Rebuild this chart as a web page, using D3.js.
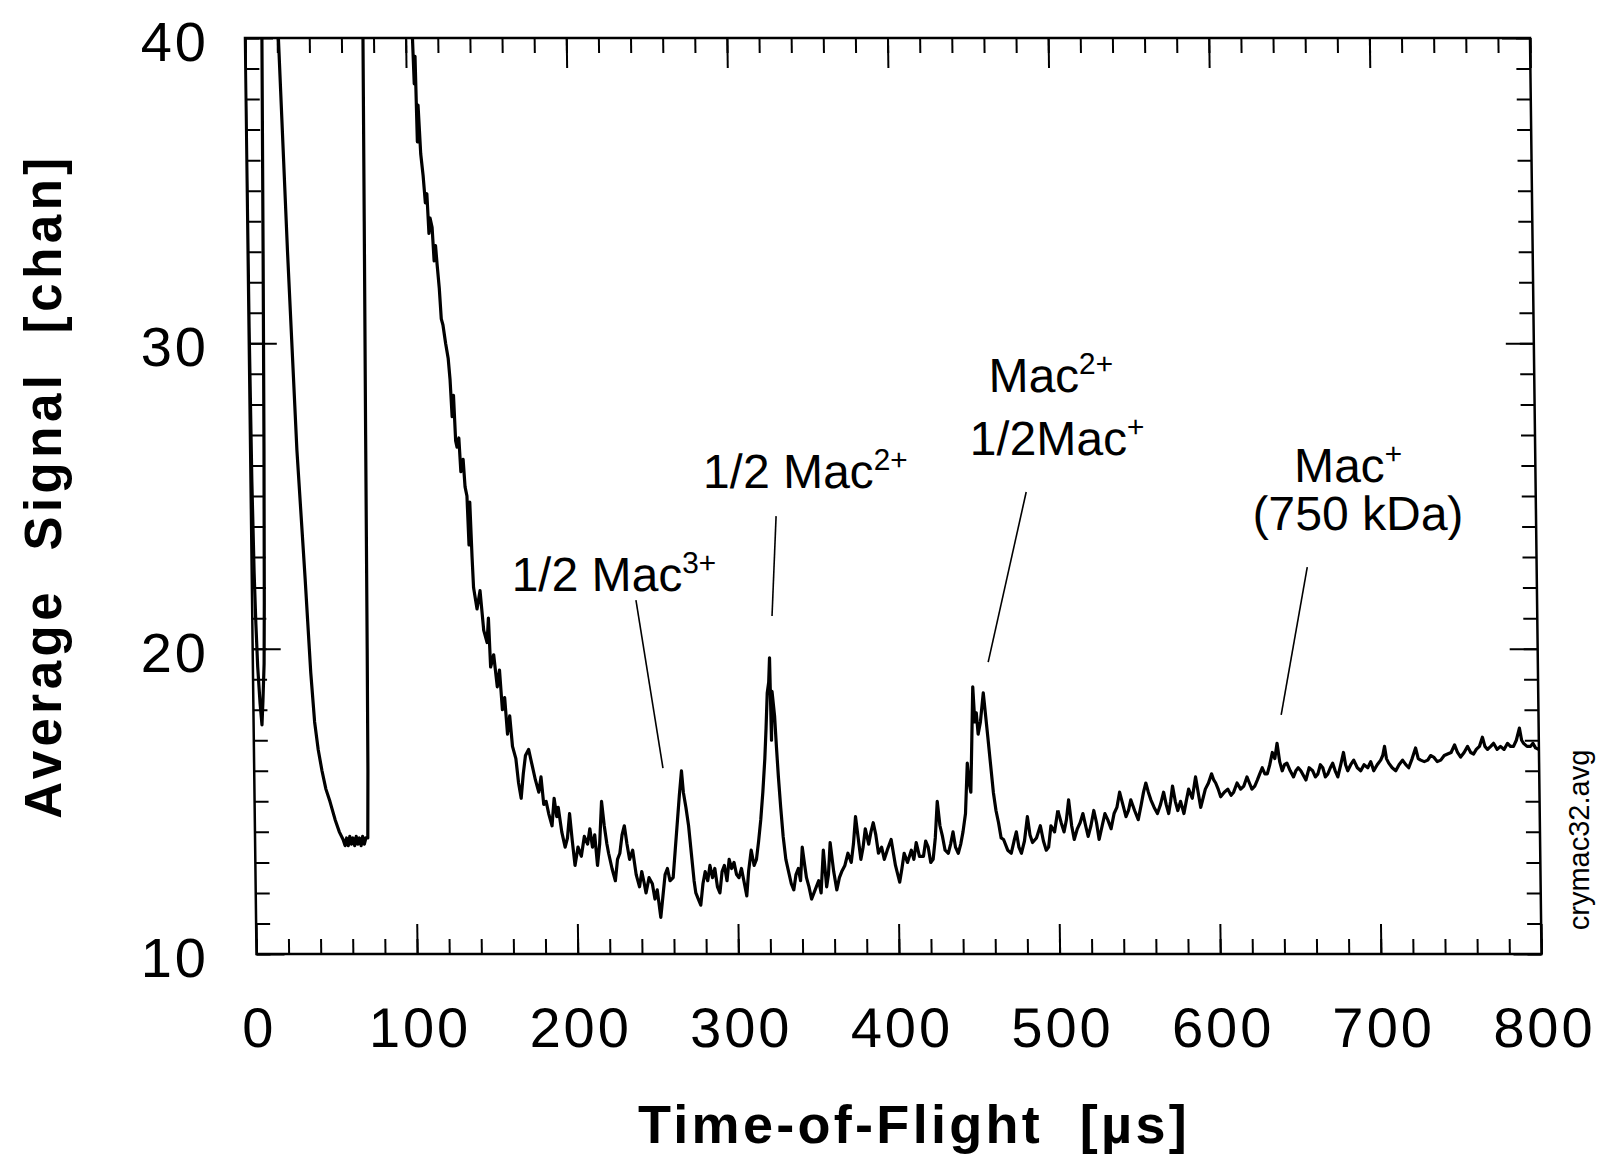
<!DOCTYPE html>
<html>
<head>
<meta charset="utf-8">
<script src="https://cdn.jsdelivr.net/npm/d3@7/dist/d3.min.js"></script>
<style>
  body { margin: 0; background: #fff; }
  text { font-family: "Liberation Sans", Arial, Helvetica, sans-serif; fill: #000; }
</style>
</head>
<body>
<svg id="chart" width="1601" height="1160"></svg>
<script>
// --- values: [time-of-flight (us), average signal (chan)]
const promptPeak = [[0,40.5],[0.3,30.5],[0.8,25.5],[1.5,22.5],[2.2,20.8],[3,19.4],[4.2,18.2],[5.2,17.5],
  [6,18.3],[7,19.5],[7.6,21.5],[8.6,26.5],[9.6,33],[10.6,40.5]];

const lightIons = [[20.5,40.5],[24.8,33],[29.1,26.5],[33.2,22.3],[36,19.2],[38,17.6],[40,16.7],[42.2,16.0],
  [44.5,15.4],[46.9,15.0],[50,14.4],[52.5,14.0],[54.8,13.75],[56,13.55],[57,13.8],[58,13.55],[59,13.85],
  [60,13.6],[61,13.8],[62,13.55],[63,13.85],[64,13.6],[65,13.8],[66,13.55],[67,13.85],[68,13.6],[69,13.8],
  [70.2,13.8],[70.8,16],[71.3,20],[72,27],[72.8,34],[73.5,40.5]];

const decayTail = [[104,40.5],[105,38.5],[105.7,39.4],[106.5,36.6],[107.2,37.8],[108.5,36.2],[109.8,35.5],
  [111,34.6],[112,34.9],[113,33.6],[113.8,34.1],[115,33.8],[116,32.7],[117,33.2],[117.8,32.6],[119,31.8],
  [120,30.8],[121,30.6],[122.5,30.0],[124,29.5],[125,28.8],[126,27.6],[127,28.3],[128,26.8],[128.8,26.6],
  [130,26.9],[131,25.8],[132.5,26.2],[133.5,25.3],[134.6,25.0],[135.5,23.4],[136.3,24.8],[137.3,23.0],
  [138,22.0],[140,21.3],[142,21.9],[144,20.6],[146,20.2],[147,21.0],[148,19.4],[150,19.8],[152,18.75],
  [153.5,19.3],[155,18.0],[156.5,18.4],[158,17.2],[159.5,17.8],[161,16.8],[163,16.4],[164.5,15.6],[166,15.1],
  [167.5,15.9],[169,16.5],[171,16.7],[173,16.2],[175,15.7],[177,15.3],[178.5,15.8],[180,14.9],[181.5,15.0],
  [183,14.6],[185,14.2],[186.5,15.1],[188,14.5],[189,14.8],[191,14.0],[193,13.5],[194.5,13.8],[196,14.6],
  [197.5,13.7],[199,12.9],[201,13.5],[203,13.2],[205,13.85],[207,13.6],[208.5,14.1],[210,13.5],[211.5,13.9],
  [213,12.9],[214.5,13.6],[216,15.0],[217.5,14.2],[219,13.6],[220,13.3],[222,12.8],[224,12.4],[225.5,13.1],
  [227,13.3],[228.5,13.9],[230,14.2],[231.5,13.6],[233,13.1],[235,13.4],[237,12.6],[239,12.2],[240.5,12.7],
  [242,12.3],[243,12.0],[245,12.5],[247,12.3],[248.5,11.8],[250,12.1]];

const macPeaks = [[252,11.2],[253.5,11.9],[255,12.6],[256.5,12.8],[258,12.4],[260,12.5],[261.5,13.4],
  [263,14.3],[264.5,15.2],[266,16.0],[267,15.3],[268.5,14.8],[270,14.2],[271.5,13.3],[273,12.4],[274,12.0],
  [275.5,11.8],[277,11.6],[278.5,12.3],[280,12.7],[281.5,12.4],[283,12.9],[284.5,12.5],[286,12.8],[287.5,12.2],
  [289,12.0],[290.5,12.7],[292,12.9],[293.5,12.4],[295,13.1],[296.5,12.8],[298,13.0],[299.5,12.6],[301,12.5],
  [302.6,12.8],[304,12.4],[305.7,11.9],[307,12.7],[308.8,13.4],[310.5,12.9],[312,13.1],[313.5,13.7],[315,14.4],
  [316.5,15.3],[318,16.4],[319,17.4],[320,18.55],[321,18.9],[321.7,19.7],[322.3,17.0],[323,18.6],[324.4,17.8],
  [325.3,16.8],[326.3,15.8],[327.5,14.8],[328.8,13.85],[330.3,13.1],[331.9,12.7],[333.5,12.3],[335,12.1],
  [336.5,12.6],[338,12.8],[339.3,12.4],[340.6,13.5],[342,12.9],[343,12.5],[344.5,12.2],[346,11.8],[348.3,12.1],
  [350.6,12.4],[352,12.0],[353.7,13.4],[355.5,12.2],[356.7,12.6],[358,13.65],[360,12.7],[361.8,12.1],
  [363.5,12.5],[365,12.7],[367,12.9],[369,13.3],[371,13.0],[372.5,13.6],[374,14.5],[375.5,13.8],[377,13.1],
  [378.5,13.5],[380,14.1],[382,13.6],[383.5,14.0],[385,14.3],[386.5,13.9],[388,13.3],[390,13.5],[391.6,13.1],
  [393.5,13.4],[396,13.75],[398.5,12.9],[401,12.35],[402.5,12.8],[404,13.3],[406,13.0],[408.5,13.4],
  [410,13.1],[411.6,13.65],[413.5,13.2],[416,13.2],[417.5,13.7],[419,13.5],[420.5,13.0],[422,13.1],
  [423.5,13.8],[425,15.0],[426.5,14.2],[428,13.85],[429.5,13.4],[431.5,13.3],[433,13.6],[434.6,14.0],
  [436,13.5],[437.7,13.3],[439.3,13.6],[440.8,14.0],[442.5,14.6],[444,16.25],[445,15.6],[446,15.3],[447,17.0],
  [448,18.75],[449,17.6],[450,17.9],[451,17.2],[452.5,17.6],[454.5,18.55],[455.8,17.8],[457,17.1],[458.5,16.2],
  [460,15.3],[461.5,14.7],[463,14.3],[464.5,13.8],[466,13.75],[468.5,13.4],[470.7,13.3],[472.5,13.7],
  [474,14.0],[475.5,13.5],[477,13.3],[479,13.7],[481,14.5],[482.5,13.9],[484,13.65],[486.5,13.8],[489,14.2],
  [490.8,13.7],[492.5,13.4],[494,13.5],[495.6,14.2],[497.8,14.0],[500,14.7]];

const risingBase = [[500,14.7],[502,14.3],[503.7,14.0],[505.3,14.4],[506.8,15.05],[508.5,14.2],[510,13.75],
  [512,14.1],[513.8,14.3],[515.6,14.6],[517.2,14.2],[518.7,13.85],[520.5,14.2],[522.4,14.7],[524,14.3],
  [525.5,13.75],[527.5,14.2],[529.3,14.6],[531,14.4],[533,14.1],[535,14.6],[536.8,14.8],[538.6,15.3],
  [540.5,14.9],[542.4,14.5],[544,14.7],[545.5,15.05],[547.8,14.7],[550,14.4],[552,14.9],[553.5,15.3],
  [555,15.6],[556.5,15.3],[558,15.05],[560,14.8],[562,14.6],[564,14.9],[566,15.3],[567.5,14.9],[569,14.6],
  [570.3,15.0],[571.6,15.5],[573.2,15.0],[574.7,14.7],[576.5,15.0],[578.5,14.6],[580,15.0],[581.6,15.4],
  [583.8,15.1],[586,15.8],[587.5,15.3],[589,14.8],[590.5,15.1],[592,15.4],[594,15.6],[596,15.9],[597.3,15.7],
  [598.5,15.6],[600,15.4],[601.5,15.15],[603.8,15.3],[606,15.4],[608,15.2],[609.6,15.3],[611.8,15.6],
  [614,15.4],[616,15.5],[618,15.8],[619.5,15.6],[621,15.4],[622.8,15.5],[624.5,15.7],[626,15.9],[627.6,16.1],
  [629.2,15.9],[630.7,15.9],[632.3,16.2],[634,16.6],[635.5,16.4],[637,16.9],[638.5,16.3],[640,16.0],
  [641.5,16.2],[643,16.25],[645,16.0],[647,15.8],[648.5,16.0],[650,16.1],[651.6,16.0],[654.7,15.7],
  [656.8,16.1],[659,16.0],[660.6,15.8],[662.2,15.9],[663.8,16.2],[665.3,16.1],[666.8,15.8],[668.4,15.9],
  [670,16.1],[671.5,16.25],[673,16.0],[674.6,15.8],[676.5,16.2],[678.3,16.6],[679.5,16.2],[680.8,16.0],
  [682.7,16.2],[684.6,16.35],[686.8,16.1],[688.9,16.0],[691,16.2],[693.3,16.1],[695.2,16.3],[697,16.0],
  [699.2,16.2],[701.4,16.35],[702.7,16.5],[703.9,16.8],[705,16.4],[706.4,16.25],[708.5,16.1],[710.7,16.0],
  [712.8,16.2],[715,16.35],[717,16.2],[718.8,16.1],[721,16.4],[723.2,16.75],[724.8,16.4],[726.3,16.35],
  [728.5,16.3],[730.7,16.35],[732.5,16.5],[734.4,16.45],[736.6,16.3],[738.8,16.35],[741,16.5],[743.1,16.55],
  [745.3,16.6],[747.5,16.85],[749.3,16.6],[751.2,16.45],[753.4,16.6],[755.6,16.8],[757.5,16.6],[759.3,16.55],
  [761,16.7],[763,16.8],[764.9,17.1],[766.4,16.8],[768,16.7],[770,16.8],[771.8,16.9],[774,16.7],[776.1,16.8],
  [778.3,16.7],[780.5,16.9],[782.3,16.8],[784.2,16.8],[786,17.0],[788,17.4],[789.3,17.0],[790.5,16.9],
  [792.6,16.8],[794.8,16.8],[796.3,16.9],[797.9,16.75],[800,16.7]];

const xMajorTicks = [0, 100, 200, 300, 400, 500, 600, 700, 800];
const yMajorTicks = [10, 20, 30, 40];

// peak labels: main text, superscript, anchor (tof, signal)
const labelText = ["1/2 Mac", "1/2 Mac", "Mac", "1/2Mac", "Mac", "(750 kDa)"];
const labelSup  = ["3+", "2+", "2+", "+", "+", ""];
const labelTof  = [225.5, 345.5, 499.1, 502.4, 683.4, 689.2];
const labelSig  = [21.9, 25.26, 28.4, 26.34, 25.45, 23.9];
// pointer lines from label to peak
const pointerFrom = [[239, 21.59], [326.9, 24.34], [482.8, 25.13], [657.2, 22.67]];
const pointerTo   = [[254.5, 16.09], [323.6, 21.07], [457.8, 19.56], [639.8, 17.83]];

const graph = { left: 245, top: 38, width: 1285, height: 916, shear: 0.01255 };

const svg = d3.select('#chart');

const x = d3.scaleLinear().domain([0, 800]).range([0, graph.width]);
const y = d3.scaleLinear().domain([10, 40]).range([graph.height, 0]);

// the scanned frame leans a little: use a shear so the plot matches
const plot = svg.append('g')
  .attr('transform', `matrix(1,0,${graph.shear},1,${graph.left},${graph.top})`);

plot.append('clipPath').attr('id', 'clip')
  .append('rect').attr('width', graph.width).attr('height', graph.height);

const styleTicks = g => {
  g.select('.domain').remove();
  g.selectAll('.tick line').attr('stroke', '#000').attr('stroke-width', 2);
  g.selectAll('.tick text').remove();
};

const minorX = d3.range(0, 801, 20);
const minorY = d3.range(10, 41, 1);

// bottom + top ticks
plot.append('g').attr('transform', `translate(0,${graph.height})`)
  .call(d3.axisBottom(x).tickValues(minorX).tickSize(-15).tickSizeOuter(0)).call(styleTicks);
plot.append('g').attr('transform', `translate(0,${graph.height})`)
  .call(d3.axisBottom(x).tickValues(xMajorTicks).tickSize(-30).tickSizeOuter(0)).call(styleTicks);
plot.append('g')
  .call(d3.axisTop(x).tickValues(minorX).tickSize(-15).tickSizeOuter(0)).call(styleTicks);
plot.append('g')
  .call(d3.axisTop(x).tickValues(xMajorTicks).tickSize(-30).tickSizeOuter(0)).call(styleTicks);

// left + right ticks
plot.append('g')
  .call(d3.axisLeft(y).tickValues(minorY).tickSize(-14).tickSizeOuter(0)).call(styleTicks);
plot.append('g')
  .call(d3.axisLeft(y).tickValues(yMajorTicks).tickSize(-28).tickSizeOuter(0)).call(styleTicks);
plot.append('g').attr('transform', `translate(${graph.width},0)`)
  .call(d3.axisRight(y).tickValues(minorY).tickSize(-14).tickSizeOuter(0)).call(styleTicks);
plot.append('g').attr('transform', `translate(${graph.width},0)`)
  .call(d3.axisRight(y).tickValues(yMajorTicks).tickSize(-28).tickSizeOuter(0)).call(styleTicks);

// frame
plot.append('rect')
  .attr('width', graph.width).attr('height', graph.height)
  .attr('fill', 'none').attr('stroke', '#000').attr('stroke-width', 2.5);

// x tick labels
plot.append('g').attr('transform', `translate(0,${graph.height})`)
  .selectAll('text').data(xMajorTicks).join('text')
  .attr('x', d => x(d) + 2)
  .attr('y', 93)
  .attr('text-anchor', 'middle')
  .attr('font-size', 56)
  .attr('letter-spacing', 3)
  .text(d => d);

// y tick labels (not sheared in the scan)
svg.append('g').attr('transform', `translate(209,${graph.top})`)
  .selectAll('text').data(yMajorTicks).join('text')
  .attr('x', 0)
  .attr('y', d => y(d) + 3)
  .attr('dy', '0.36em')
  .attr('text-anchor', 'end')
  .attr('font-size', 56)
  .attr('letter-spacing', 3)
  .text(d => d);

// signal trace
const line = d3.line().x(d => x(d[0])).y(d => y(d[1]));
const trace = plot.append('g').attr('clip-path', 'url(#clip)');
[promptPeak, lightIons, decayTail.concat(macPeaks), risingBase].forEach(seg => {
  trace.append('path')
    .datum(seg)
    .attr('d', line)
    .attr('fill', 'none')
    .attr('stroke', '#000')
    .attr('stroke-width', 3.2)
    .attr('stroke-linejoin', 'round');
});

// pointer lines
plot.append('g').selectAll('line').data(pointerFrom).join('line')
  .attr('x1', d => x(d[0])).attr('y1', d => y(d[1]))
  .attr('x2', (d, i) => x(pointerTo[i][0])).attr('y2', (d, i) => y(pointerTo[i][1]))
  .attr('stroke', '#000').attr('stroke-width', 1.6);

// peak labels
const labels = plot.append('g').selectAll('text').data(labelText).join('text')
  .attr('x', (d, i) => x(labelTof[i]))
  .attr('y', (d, i) => y(labelSig[i]))
  .attr('text-anchor', 'middle')
  .attr('font-size', 48);
labels.append('tspan').text(d => d);
labels.append('tspan')
  .attr('font-size', 30)
  .attr('dy', -18)
  .text((d, i) => labelSup[i]);

// axis titles
svg.append('text')
  .attr('x', 914).attr('y', 1143)
  .attr('text-anchor', 'middle')
  .attr('font-size', 54).attr('font-weight', 'bold')
  .attr('letter-spacing', 3.3)
  .style('white-space', 'pre')
  .text('Time-of-Flight  [\u00b5s]');

svg.append('text')
  .attr('transform', 'translate(61,486) rotate(-90)')
  .attr('text-anchor', 'middle')
  .attr('font-size', 51).attr('font-weight', 'bold')
  .attr('letter-spacing', 4.5)
  .style('white-space', 'pre')
  .text('Average  Signal  [chan]');

svg.append('text')
  .attr('transform', 'translate(1589,840) rotate(-90)')
  .attr('text-anchor', 'middle')
  .attr('font-size', 29)
  .text('crymac32.avg');
</script>
</body>
</html>
